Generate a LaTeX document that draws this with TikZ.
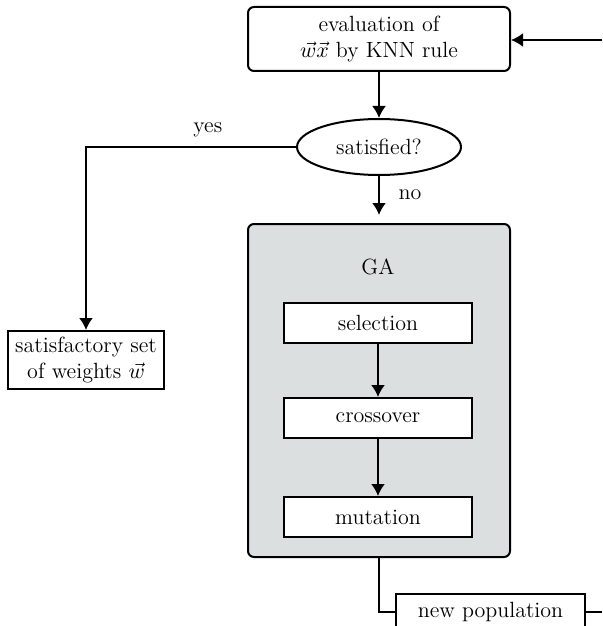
\documentclass[tikz,border=0pt]{standalone}
\usetikzlibrary{arrows.meta,shapes.geometric}
\definecolor{gapanel}{RGB}{220,223,224}
\begin{document}
\begin{tikzpicture}[x=0.5pt,y=-0.5pt,
  font=\fontsize{11}{13}\selectfont,
  line width=1pt,
  box/.style={draw, rectangle, align=center, inner sep=0pt},
  rbox/.style={box, rounded corners=3pt},
  arr/.style={-{Latex[length=6pt,width=7pt]}}]
\useasboundingbox (0,0) rectangle (602,626);
\clip (0,0) rectangle (602,626);

% main flow
\node[rbox, minimum width=131pt, minimum height=32pt] (eval) at (379,39)
  {evaluation of\\ $\vec{w}\vec{x}$ by KNN rule};
\node[draw, ellipse, minimum width=82pt, minimum height=28pt, inner sep=0pt] (sat) at (379,147) {satisfied?};
\node[rbox, fill=gapanel, minimum width=131pt, minimum height=166.5pt] (ga) at (379,390.5) {};
\node (galabel) at (378,267) {GA};
\node[box, fill=white, minimum width=94pt, minimum height=20pt] (sel) at (378,323) {selection};
\node[box, fill=white, minimum width=94pt, minimum height=20pt] (cro) at (378,418) {crossover};
\node[box, fill=white, minimum width=94pt, minimum height=20pt] (mut) at (378,517) {mutation};
\node[box, minimum width=78pt, minimum height=29pt] (res) at (86,360)
  {satisfactory set\\ of weights $\vec{w}$};
\node[box, minimum width=94.5pt, minimum height=18pt] (pop) at (490.5,612) {new population};

\coordinate (loopin) at (602,40);
\coordinate (loopout) at (602,612);

% connectors
\draw[arr] (loopin) -- (eval.east |- loopin);
\draw[arr] (eval.south) -- (sat.north);
\draw[arr, shorten >=4pt] (sat.south) -- node[right=6pt, pos=0.4] {no} (ga.north);
\draw[arr] (sat.west) -| node[pos=0.21, above=1pt] {yes} (res.north);
\draw[arr] (sel.south) -- (cro.north);
\draw[arr] (cro.south) -- (mut.north);
\draw (ga.south) |- (pop.west);
\draw (pop.east) -- (loopout);
\end{tikzpicture}
\end{document}
